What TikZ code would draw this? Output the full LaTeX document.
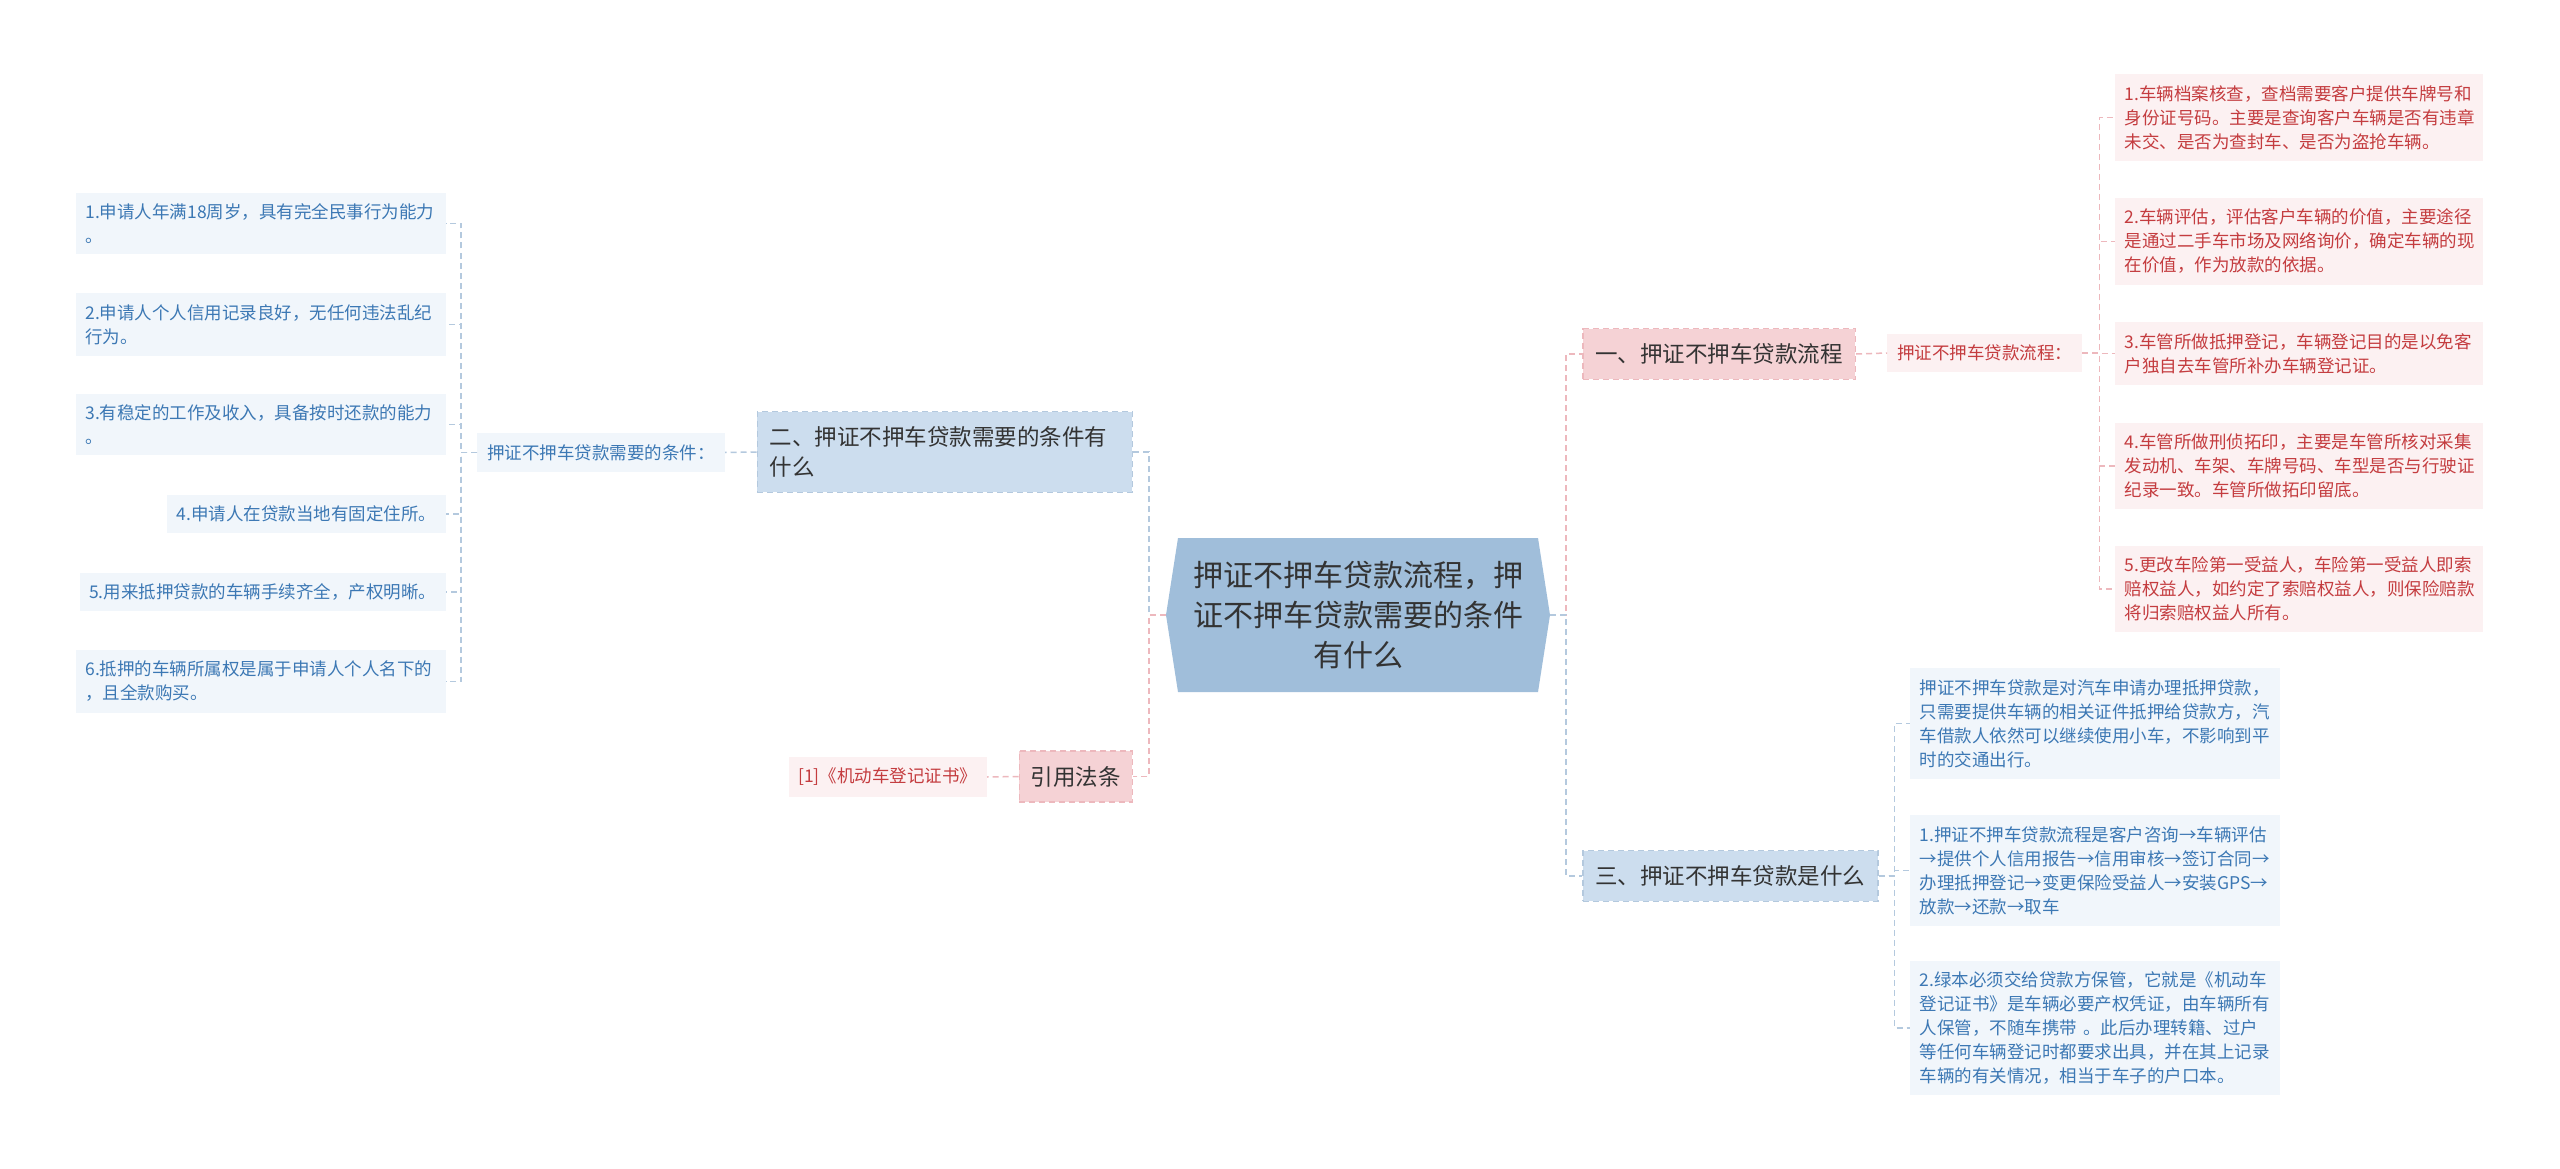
\documentclass[tikz,border=0pt]{standalone}
\usepackage{fontspec}
\setmainfont{Noto Sans CJK SC}
\usepackage{tikz}
\usepackage{xcolor}

\definecolor{rootfill}{HTML}{A0BEDA}
\definecolor{ink}{HTML}{333333}
\definecolor{bluefill}{HTML}{CCDDEE}
\definecolor{pinkfill}{HTML}{F5D2D5}
\definecolor{bluepale}{HTML}{F1F6FB}
\definecolor{pinkpale}{HTML}{FCF1F2}
\definecolor{bluetext}{HTML}{3C78B4}
\definecolor{redtext}{HTML}{C43C3F}
\definecolor{blueline}{HTML}{B4C9DE}
\definecolor{pinkline}{HTML}{EDB8BD}

\begin{document}
\begin{tikzpicture} [x=1pt, y=-1pt,
	bl/.style={draw=blueline, line width=1.5pt, dash pattern=on 6pt off 4pt},
	pl/.style={draw=pinkline, line width=1.5pt, dash pattern=on 6pt off 4pt},
	topic/.style={text=ink, font=\fontsize{22.5}{30}\selectfont, inner xsep=12.5pt, inner ysep=15pt, align=left, line width=1.5pt, dash pattern=on 6pt off 4pt},
	bleaf/.style={fill=bluepale, text=bluetext, font=\fontsize{17.5}{24}\selectfont, inner xsep=9.5pt, inner ysep=11pt, align=left},
	pleaf/.style={fill=pinkpale, text=redtext, font=\fontsize{17.5}{24}\selectfont, inner xsep=9.5pt, inner ysep=11pt, align=left}]
		\fill[white] (0,0) rectangle (2560,1169);
		\useasboundingbox (0,0) rectangle (2560,1169);
%	\draw[help lines, step=50] (0,0) grid (2560,1169);
		\fill[rootfill] (1166,615) -- (1178,538) -- (1538,538) -- (1550,615) -- (1538,692) -- (1178,692) -- cycle;
		\node (root) at (1358,615) [minimum width=384pt, minimum height=154pt, text width=336pt, align=center, text=ink, font=\fontsize{30}{40}\selectfont] {押证不押车贷款流程，押\\证不押车贷款需要的条件\\有什么};

		\node (two) [topic, fill=bluefill, draw=blueline, text width=350pt, anchor=east] at (1133,452) {二、押证不押车贷款需要的条件有\\什么};
		\node (cond) [bleaf, inner xsep=10pt, anchor=east] at (725,452.5) {押证不押车贷款需要的条件：};
			\node (l1) [bleaf, text width=351pt, anchor=east] at (446,223.5) {1.申请人年满18周岁，具有完全民事行为能力\\。};
			\node (l2) [bleaf, text width=351pt, anchor=east] at (446,324.5) {2.申请人个人信用记录良好，无任何违法乱纪\\行为。};
			\node (l3) [bleaf, text width=351pt, anchor=east] at (446,424.5) {3.有稳定的工作及收入，具备按时还款的能力\\。};
			\node (l4) [bleaf, anchor=east] at (446,514) {4.申请人在贷款当地有固定住所。};
			\node (l5) [bleaf, anchor=east] at (446,592) {5.用来抵押贷款的车辆手续齐全，产权明晰。};
			\node (l6) [bleaf, text width=351pt, anchor=east] at (446,681.5) {6.抵押的车辆所属权是属于申请人个人名下的\\，且全款购买。};
		\node (law) [topic, fill=pinkfill, draw=pinkline, inner xsep=11.5pt, anchor=east] at (1133,776.5) {引用法条};
		\node (ref) [pleaf, minimum width=198pt, anchor=east] at (987,777) {[1]《机动车登记证书》};

		\node (one) [topic, fill=pinkfill, draw=pinkline, anchor=west] at (1582,354) {一、押证不押车贷款流程};
		\node (flow) [pleaf, inner xsep=10pt, anchor=west] at (1887,353) {押证不押车贷款流程：};
			\node (r1) [pleaf, text width=349pt, anchor=west] at (2115,117.5) {1.车辆档案核查，查档需要客户提供车牌号和\\身份证号码。主要是查询客户车辆是否有违章\\未交、是否为查封车、是否为盗抢车辆。};
			\node (r2) [pleaf, text width=349pt, anchor=west] at (2115,241.5) {2.车辆评估，评估客户车辆的价值，主要途径\\是通过二手车市场及网络询价，确定车辆的现\\在价值，作为放款的依据。};
			\node (r3) [pleaf, text width=349pt, anchor=west] at (2115,353.5) {3.车管所做抵押登记，车辆登记目的是以免客\\户独自去车管所补办车辆登记证。};
			\node (r4) [pleaf, text width=349pt, anchor=west] at (2115,466) {4.车管所做刑侦拓印，主要是车管所核对采集\\发动机、车架、车牌号码、车型是否与行驶证\\纪录一致。车管所做拓印留底。};
			\node (r5) [pleaf, text width=349pt, anchor=west] at (2115,589) {5.更改车险第一受益人，车险第一受益人即索\\赔权益人，如约定了索赔权益人，则保险赔款\\将归索赔权益人所有。};
		\node (three) [topic, fill=bluefill, draw=blueline, anchor=west] at (1582,876) {三、押证不押车贷款是什么};
			\node (s1) [bleaf, text width=351pt, anchor=west] at (1910,723.5) {押证不押车贷款是对汽车申请办理抵押贷款，\\只需要提供车辆的相关证件抵押给贷款方，汽\\车借款人依然可以继续使用小车，不影响到平\\时的交通出行。};
			\node (s2) [bleaf, text width=351pt, anchor=west] at (1910,870.5) {1.押证不押车贷款流程是客户咨询→车辆评估\\→提供个人信用报告→信用审核→签订合同→\\办理抵押登记→变更保险受益人→安装GPS→\\放款→还款→取车};
			\node (s3) [bleaf, text width=351pt, anchor=west] at (1910,1028) {2.绿本必须交给贷款方保管，它就是《机动车\\登记证书》是车辆必要产权凭证，由车辆所有\\人保管，不随车携带 。此后办理转籍、过户\\等任何车辆登记时都要求出具，并在其上记录\\车辆的有关情况，相当于车子的户口本。};

		\draw[bl] (root.west) -- ++(-17,0) |- (two.east);
		\draw[pl] (root.west) -- ++(-17,0) |- (law.east);
		\draw[bl] (two.west) -- (cond.west -| cond.east);
		\foreach \n in {1,...,6}
			\draw[bl] (cond.west) -- ++(-16,0) |- (l\n.east);
		\draw[pl] (law.west) -- (ref.east);
		\draw[pl] (root.east) -- ++(16,0) |- (one.west);
		\draw[bl] (root.east) -- ++(16,0) |- (three.west);
		\draw[pl] (one.east) -- (flow.west);
		\foreach \n in {1,...,5}
			\draw[pl] (flow.east) -- ++(17,0) |- (r\n.west);
		\foreach \n in {1,...,3}
			\draw[bl] (three.east) -- ++(16,0) |- (s\n.west);
\end{tikzpicture}
\end{document}
